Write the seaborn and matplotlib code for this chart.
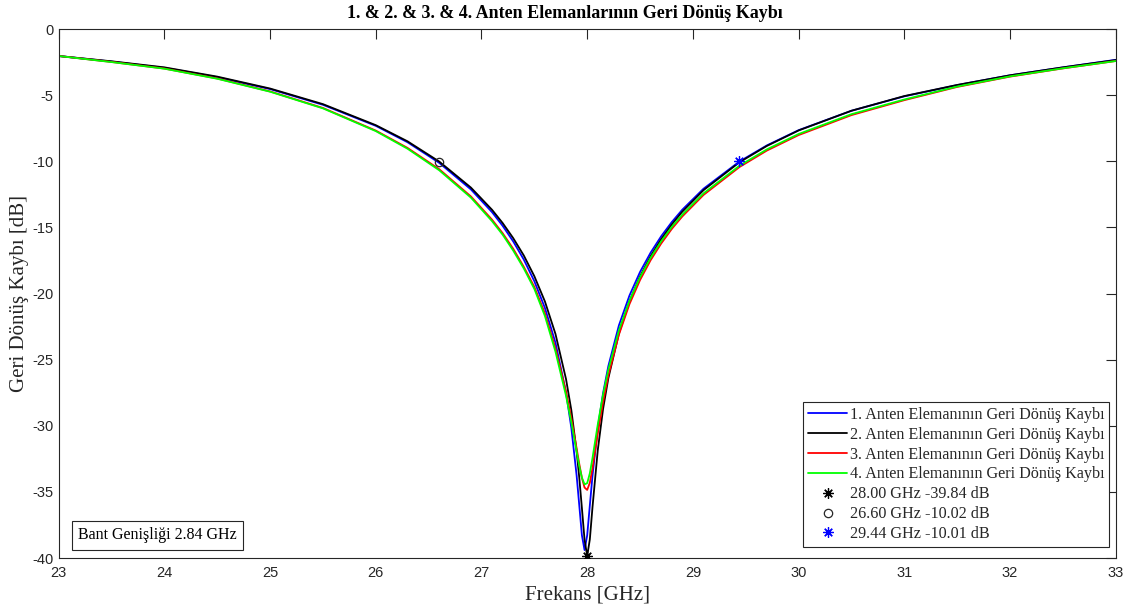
import numpy as np
import pandas as pd
import matplotlib
matplotlib.use("Agg")
import matplotlib.pyplot as plt
import seaborn as sns

# ---------------- data ----------------
freq = [23, 23.5, 24, 24.5, 25, 25.5, 26, 26.3, 26.6, 26.9, 27.1, 27.2, 27.3, 27.4,
        27.5, 27.6, 27.7, 27.8, 27.85, 27.9, 27.925, 27.95, 27.975, 28, 28.025, 28.05,
        28.1, 28.15, 28.2, 28.3, 28.4, 28.5, 28.6, 28.7, 28.8, 28.9, 29.1, 29.44, 29.7,
        30, 30.5, 31, 31.5, 32, 32.5, 33]

s11_1 = [-2.04, -2.46, -2.93, -3.64, -4.54, -5.73, -7.32, -8.56, -10.12, -12.13, -13.85,
         -14.88, -16.06, -17.43, -19.07, -21.09, -23.73, -27.50, -30.16, -33.76, -36.01,
         -38.28, -39.40, -38.28, -36.02, -33.79, -30.19, -27.54, -25.49, -22.41, -20.15,
         -18.37, -16.91, -15.67, -14.60, -13.66, -12.08, -10.02, -8.80, -7.65, -6.18,
         -5.09, -4.24, -3.50, -2.90, -2.33]

s11_2 = [-2.04, -2.44, -2.90, -3.60, -4.50, -5.68, -7.27, -8.49, -10.02, -11.99, -13.67,
         -14.67, -15.81, -17.12, -18.69, -20.60, -23.06, -26.48, -28.82, -31.94, -33.92,
         -36.23, -38.62, -39.84, -38.59, -36.17, -31.85, -28.74, -26.41, -23.02, -20.59,
         -18.71, -17.18, -15.89, -14.78, -13.81, -12.19, -10.08, -8.84, -7.67, -6.18,
         -5.07, -4.23, -3.50, -2.90, -2.35]

s11_3 = [-2.04, -2.49, -2.99, -3.74, -4.72, -5.97, -7.68, -8.99, -10.60, -12.66, -14.42,
         -15.44, -16.62, -17.98, -19.50, -21.50, -24.15, -27.44, -29.43, -31.71, -32.88,
         -33.94, -34.67, -34.85, -34.31, -33.22, -30.59, -28.20, -26.20, -23.11, -20.80,
         -18.98, -17.48, -16.22, -15.12, -14.17, -12.55, -10.44, -9.19, -8.02, -6.51,
         -5.38, -4.38, -3.60, -2.98, -2.42]

s11_4 = [-2.04, -2.50, -3.00, -3.76, -4.74, -6.00, -7.72, -9.05, -10.68, -12.75, -14.53,
         -15.55, -16.75, -18.10, -19.65, -21.70, -24.40, -27.74, -29.74, -31.96, -33.05,
         -33.93, -34.43, -34.34, -33.59, -32.45, -29.91, -27.65, -25.75, -22.78, -20.54,
         -18.76, -17.29, -16.05, -14.97, -14.03, -12.43, -10.34, -9.10, -7.94, -6.44,
         -5.33, -4.35, -3.58, -2.97, -2.42]

series_labels = ["1. Anten Elemanının Geri Dönüş Kaybı",
                 "2. Anten Elemanının Geri Dönüş Kaybı",
                 "3. Anten Elemanının Geri Dönüş Kaybı",
                 "4. Anten Elemanının Geri Dönüş Kaybı"]
series_colors = ["#0000ff", "#000000", "#ff0000", "#00ff00"]

marker_f = [28.00, 26.60, 29.44]
marker_db = [-39.84, -10.02, -10.01]
marker_labels = ["28.00 GHz -39.84 dB", "26.60 GHz -10.02 dB", "29.44 GHz -10.01 dB"]

title_text = "1. & 2. & 3. & 4. Anten Elemanlarının Geri Dönüş Kaybı"
xlabel_text = "Frekans [GHz]"
ylabel_text = "Geri Dönüş Kaybı [dB]"
bw_text = "Bant Genişliği 2.84 GHz"
xticks = [23, 24, 25, 26, 27, 28, 29, 30, 31, 32, 33]
yticks = [0, -5, -10, -15, -20, -25, -30, -35, -40]

# ---------------- style ----------------
sns.set_theme(style="white")
plt.rcParams["font.family"] = ["Liberation Serif", "DejaVu Serif"]
plt.rcParams["axes.edgecolor"] = "#262626"
plt.rcParams["axes.linewidth"] = 0.8

fig = plt.figure(figsize=(11.29, 6.11), dpi=100)
ax = fig.add_axes([0.052, 0.0867, 0.9362, 0.8658])

data = pd.DataFrame({"freq": freq, "s1": s11_1, "s2": s11_2, "s3": s11_3, "s4": s11_4})
for col, lab, c in zip(["s1", "s2", "s3", "s4"], series_labels, series_colors):
    sns.lineplot(data=data, x="freq", y=col, color=c, linewidth=1.3, sort=False,
                 ax=ax, label=lab)
line_handles = ax.get_lines()[:4]

ast = (8, 2, 0)
h1, = ax.plot([marker_f[0]], [marker_db[0]], linestyle="none", marker=ast,
              markersize=7.5, markeredgewidth=0.9, color="#000000", zorder=5)
h2, = ax.plot([marker_f[1]], [marker_db[1]], linestyle="none", marker="o",
              markersize=6, markeredgewidth=0.9, markerfacecolor="none",
              markeredgecolor="#262626", zorder=5)
h3, = ax.plot([marker_f[2]], [marker_db[2]], linestyle="none", marker=ast,
              markersize=7.5, markeredgewidth=0.9, color="#0000ff", zorder=5)

ax.set_xlim(23, 33)
ax.set_ylim(-40, 0)
ax.set_xticks(xticks)
ax.set_yticks(yticks)
ax.set_xticklabels([str(t) for t in xticks], family="Liberation Sans", fontsize=10.5,
                   color="#262626")
ax.set_yticklabels([str(t) for t in yticks], family="Liberation Sans", fontsize=10.5,
                   color="#262626")
ax.tick_params(axis="both", direction="in", length=7.5, width=0.8, top=True,
               right=True, color="#262626")
ax.tick_params(axis="x", pad=5.5)
ax.tick_params(axis="y", pad=4)
for sp in ax.spines.values():
    sp.set_visible(True)
    sp.set_color("#262626")
    sp.set_linewidth(0.8)

ax.set_xlabel(xlabel_text, fontsize=15, color="#262626", labelpad=4)
ax.set_ylabel(ylabel_text, fontsize=15, color="#262626", labelpad=2)
fig.text(565 / 1129, 1 - 13 / 611, title_text, fontsize=13, fontweight="bold",
         color="#000000", ha="center", va="center")

leg = ax.legend(handles=list(line_handles) + [h1, h2, h3],
                labels=series_labels + marker_labels,
                loc="lower right", bbox_to_anchor=(0.994, 0.021), borderaxespad=0,
                fontsize=11.6, frameon=True, fancybox=False, framealpha=1,
                edgecolor="#262626", handlelength=2.45, handletextpad=0.15,
                labelspacing=0.24, borderpad=0.3)
leg.get_frame().set_linewidth(0.8)

ax.text(0.0183, 0.028, bw_text, transform=ax.transAxes, ha="left", va="bottom",
        fontsize=11.5, color="#000000",
        bbox=dict(boxstyle="square,pad=0.4", facecolor="white", edgecolor="#262626",
                  linewidth=0.8))

fig.savefig("out.png", dpi=100)
